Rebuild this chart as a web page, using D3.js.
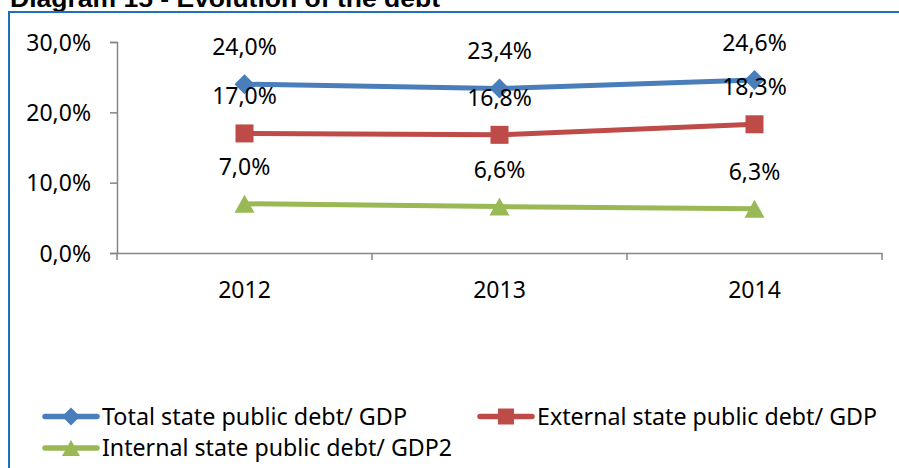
<!DOCTYPE html>
<html lang="en">
<head>
<meta charset="utf-8">
<script src="https://d3js.org/d3.v7.min.js"></script>
<style>
  body { margin: 0; background: #fff; }
  text { font-family: "Noto Sans", "Open Sans", sans-serif; fill: #000; }
</style>
</head>
<body>
<script>
// chart data
const years = ["2012", "2013", "2014"];
const totalDebt = [0.240, 0.234, 0.246];
const externalDebt = [0.170, 0.168, 0.183];
const internalDebt = [0.070, 0.066, 0.063];
const yTicks = [0, 0.1, 0.2, 0.3];
const seriesNames = [
  "Total state public debt/ GDP",
  "External state public debt/ GDP",
  "Internal state public debt/ GDP2"
];

const width = 899, height = 468;

const series = [
  {name: seriesNames[0], values: totalDebt, color: "#4a7ebb", marker: "diamond"},
  {name: seriesNames[1], values: externalDebt, color: "#be4b48", marker: "square"},
  {name: seriesNames[2], values: internalDebt, color: "#98b954", marker: "triangle"}
];

const fmt = v => d3.format(".1f")(v * 100).replace(".", ",") + "%";

const svg = d3.select("body").append("svg")
  .attr("width", width)
  .attr("height", height);

svg.append("rect").attr("width", width).attr("height", height).attr("fill", "#fff");

// title, mostly cut off at the top
svg.append("text")
  .attr("x", 10).attr("y", 7)
  .attr("textLength", 430)
  .attr("lengthAdjust", "spacingAndGlyphs")
  .style("font-family", "'Liberation Sans', Arial, sans-serif")
  .style("font-weight", "bold")
  .style("font-size", "24px")
  .text("Diagram 15 - Evolution of the debt");

// frame
svg.append("rect")
  .attr("x", 9).attr("y", 12)
  .attr("width", 1000).attr("height", 600)
  .attr("fill", "none")
  .attr("stroke", "#1f70b8")
  .attr("stroke-width", 2);

const x = d3.scaleBand().domain(years).range([117, 882]);
const y = d3.scaleLinear().domain([0, 0.3]).range([253, 42]);
const cx = d => x(d) + x.bandwidth() / 2;

// y axis
const yAxis = svg.append("g")
  .attr("transform", "translate(117,0)")
  .call(d3.axisLeft(y).tickValues(yTicks).tickFormat(fmt).tickSize(7).tickPadding(19));
yAxis.select(".domain").attr("stroke", "#868686").attr("stroke-width", 1.5);
yAxis.selectAll(".tick line").attr("stroke", "#868686").attr("stroke-width", 1.5);
yAxis.selectAll(".tick text").style("font-size", "23px").attr("dy", "0.35em");

// x axis
const xAxis = svg.append("g")
  .attr("transform", "translate(0,253)")
  .call(d3.axisBottom(x).tickValues([]).tickSizeOuter(0));
xAxis.select(".domain").attr("stroke", "#868686").attr("stroke-width", 1.5);
const bounds = [117, ...years.map(d => x(d) + x.bandwidth())];
xAxis.selectAll(".xtick").data(bounds).join("line")
  .attr("x1", d => d).attr("x2", d => d)
  .attr("y1", 0).attr("y2", 7)
  .attr("stroke", "#868686").attr("stroke-width", 1.5);
xAxis.selectAll(".xlab").data(years).join("text")
  .attr("x", d => cx(d)).attr("y", 45)
  .attr("text-anchor", "middle")
  .style("font-size", "23px")
  .text(d => d);

function markerPath(type, size) {
  const s = size / 2;
  if (type === "diamond") return `M0,${-s}L${s},0L0,${s}L${-s},0Z`;
  if (type === "square") return `M${-s + 1},${-s + 1}H${s - 1}V${s - 1}H${-s + 1}Z`;
  return `M0,${-s + 1}L${s},${s - 1}H${-s}Z`;
}

const line = d3.line().x((d, i) => cx(years[i])).y(d => y(d));

series.forEach(s => {
  const g = svg.append("g");
  g.append("path")
    .attr("d", line(s.values))
    .attr("fill", "none")
    .attr("stroke", s.color)
    .attr("stroke-width", 5);
  g.selectAll("path.m").data(s.values).join("path")
    .attr("class", "m")
    .attr("transform", (d, i) => `translate(${cx(years[i])},${y(d)})`)
    .attr("d", markerPath(s.marker, 20))
    .attr("fill", s.color);
});

// data labels above points
series.forEach(s => {
  svg.append("g").selectAll("text").data(s.values).join("text")
    .attr("x", (d, i) => cx(years[i]))
    .attr("y", d => y(d) - 29)
    .attr("text-anchor", "middle")
    .style("font-size", "23px")
    .text(fmt);
});

// legend
const legendPos = [[43, 416.5, 305], [478, 416.5, 340], [43, 448, 350]];
series.forEach((s, i) => {
  const [lx, ly, tw] = legendPos[i];
  const g = svg.append("g").attr("transform", `translate(${lx},${ly})`);
  g.append("line")
    .attr("x1", 2).attr("x2", 54)
    .attr("stroke", s.color).attr("stroke-width", 5.5)
    .attr("stroke-linecap", "round");
  g.append("path")
    .attr("transform", "translate(28,0)")
    .attr("d", markerPath(s.marker, 18))
    .attr("fill", s.color);
  g.append("text")
    .attr("x", 59).attr("y", 8)
    .attr("textLength", tw)
    .attr("lengthAdjust", "spacingAndGlyphs")
    .style("font-size", "23px")
    .text(s.name);
});
</script>
</body>
</html>
